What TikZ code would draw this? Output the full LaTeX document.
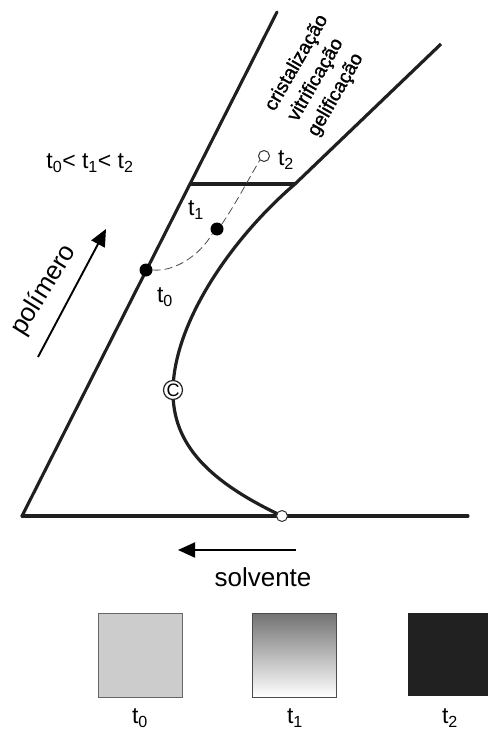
\documentclass[tikz,border=0pt]{standalone}
\usepackage{fontspec}
\setmainfont{Liberation Sans}
\usetikzlibrary{arrows.meta}
\newcommand\tlab[1]{t\textsubscript{#1}}
\tikzset{
  axis/.style={line width=3.1pt, draw=black!88, line cap=round},
  curveline/.style={line width=3.2pt, draw=black!88},
  tie/.style={line width=3.2pt, draw=black!88},
  dashline/.style={draw=black!70, line width=0.8pt, dash pattern=on 8pt off 4pt},
  bigdot/.style={circle, fill=black, inner sep=0pt, minimum size=13pt},
  opendot/.style={circle, draw=black!80, fill=white, line width=1pt, inner sep=0pt, minimum size=11pt},
  lbl/.style={font=\fontsize{23}{26}\selectfont, inner sep=1pt},
  phase/.style={font=\fontsize{19.5}{22}\selectfont\addfontfeature{FakeBold=1.2}, rotate=60, inner sep=0pt},
  bigarrow/.style={line width=1.9pt, -{Triangle[length=17pt,width=15pt]}},
  sq/.style={line width=1pt},
}
\begin{document}
\begin{tikzpicture}[x=1pt,y=-1pt]
\useasboundingbox (0,0) rectangle (488,733);
% main frame
\coordinate (O) at (22,516);
\coordinate (Ltop) at (277,12);
\coordinate (Bend) at (468,516);
\coordinate (Rtop) at (441,44);
\coordinate (Tl) at (190,184);
\coordinate (Tr) at (295,184);
\draw[axis] (O) -- (Ltop);
\draw[axis] (O) -- (Bend);
% binodal curve
\draw[curveline] (282,516) .. controls (210,482) and (172,445) .. (173,390)
   .. controls (174,322) and (232,238) .. (Tr) -- (Rtop);
\draw[tie] (Tl) -- (Tr);
% path t0 -> t1 -> t2
\node[bigdot] (p0) at (146,270) {};
\node[bigdot] (p1) at (217,229) {};
\node[opendot] (p2) at (264,156) {};
\draw[dashline] (p0.east) .. controls (175,272) and (200,255) .. (p1.south west);
\draw[dashline] (p1.north east) .. controls (235,205) and (248,180) .. (p2.south west);
% special points
\node[opendot] (s) at (282,516) {};
\node[circle, draw=black!85, fill=white, line width=1.2pt, inner sep=0pt, minimum size=19pt,
      font=\fontsize{18}{18}\selectfont] (C) at (173,390) {C};
% labels
\node[lbl] (l0) at (165,297) {\tlab{0}};
\node[lbl] (l1) at (196,210) {\tlab{1}};
\node[lbl] (l2) at (286,160) {\tlab{2}};
\node[lbl] (ineq) at (90,163) {\tlab{0}< \tlab{1}< \tlab{2}};
\node[phase] (ph1) at (297,63) {cristalização};
\node[phase] (ph2) at (316,80) {vitrificação};
\node[phase] (ph3) at (336,95) {gelificação};
% arrows
\coordinate (pa) at (38,357);
\coordinate (pb) at (106,229);
\draw[bigarrow] (pa) -- (pb);
\node[font=\fontsize{26}{28}\selectfont, rotate=58] (pol) at (44,290) {polímero};
\coordinate (sa) at (296,550);
\coordinate (sb) at (178,550);
\draw[bigarrow] (sa) -- (sb);
\node[font=\fontsize{26}{28}\selectfont, anchor=base] (sol) at (263,586) {solvente};
% squares
\node[sq, draw=black!60, fill=black!20, minimum size=84pt, inner sep=0pt] (q0) at (140,655) {};
\shade[top color=black!55, bottom color=white] (253,613) rectangle (336,697);
\node[sq, draw=black!70, minimum size=84pt, inner sep=0pt] (q1) at (294.5,655) {};
\fill[black!87] (408,613) rectangle (488,696);
\node[lbl] (b0) at (140,718) {\tlab{0}};
\node[lbl] (b1) at (295,718) {\tlab{1}};
\node[lbl] (b2) at (450,718) {\tlab{2}};
\end{tikzpicture}
\end{document}
